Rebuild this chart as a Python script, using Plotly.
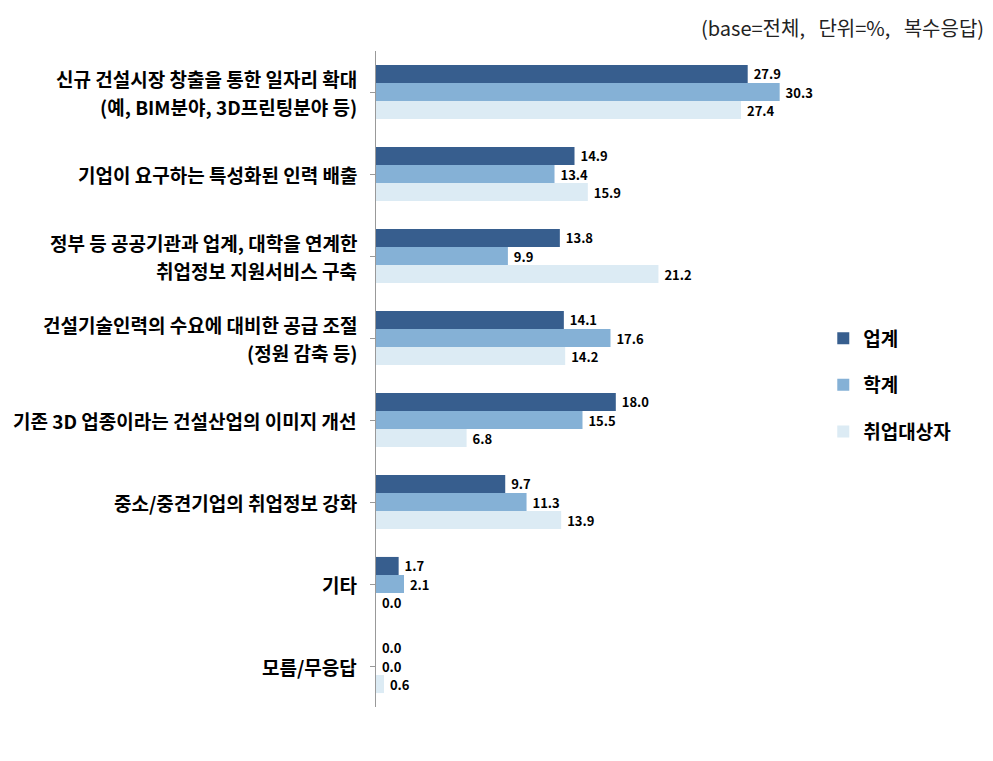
import plotly.graph_objects as go

categories = [
    "신규 건설시장 창출을 통한 일자리 확대\n(예, BIM분야, 3D프린팅분야 등)",
    "기업이 요구하는 특성화된 인력 배출",
    "정부 등 공공기관과 업계, 대학을 연계한\n취업정보 지원서비스 구축",
    "건설기술인력의 수요에 대비한 공급 조절\n(정원 감축 등)",
    "기존 3D 업종이라는 건설산업의 이미지 개선",
    "중소/중견기업의 취업정보 강화",
    "기타",
    "모름/무응답",
]
series_names = ["업계", "학계", "취업대상자"]
industry = [27.9, 14.9, 13.8, 14.1, 18.0, 9.7, 1.7, 0.0]
academia = [30.3, 13.4, 9.9, 17.6, 15.5, 11.3, 2.1, 0.0]
job_seekers = [27.4, 15.9, 21.2, 14.2, 6.8, 13.9, 0.0, 0.6]

colors = ["#375E8E", "#85B1D6", "#DCEBF4"]
FONT = "Noto Sans CJK KR"

fig = go.Figure()
for i, (name, vals) in enumerate(zip(series_names, [industry, academia, job_seekers])):
    fig.add_trace(go.Bar(
        y=list(range(len(categories))), x=vals, name=name, orientation="h",
        marker=dict(color=colors[i], line=dict(width=0)),
        text=[f"\u00a0{v:.1f}" for v in vals], textposition="outside",
        textfont=dict(family=FONT, size=13, color="black", weight="bold"),
        cliponaxis=False, constraintext="none",
        legendgroup=name, legendrank=i,
    ))

# category labels as annotations (two-line labels need wider spacing)
for idx, cat in enumerate(categories):
    lines = cat.split("\n")
    n = len(lines)
    for j, line in enumerate(lines):
        fig.add_annotation(
            x=0, y=idx, xref="x", yref="y", text=line, showarrow=False,
            xanchor="right", yanchor="middle", xshift=-17,
            yshift=(n - 1) * 14 - j * 28,
            font=dict(family=FONT, size=19, color="black", weight="bold"),
        )

fig.add_annotation(
    x=1, y=1, xref="paper", yref="paper", xanchor="right", yanchor="middle",
    xshift=197, yshift=24,
    text="(base=전체,&nbsp;&nbsp;&nbsp;단위=%,&nbsp;&nbsp;&nbsp;복수응답)", showarrow=False,
    font=dict(family=FONT, size=20, color="#222222"),
)

fig.update_layout(
    width=993, height=761,
    margin=dict(l=376, r=204, t=51, b=54, autoexpand=False),
    plot_bgcolor="white", paper_bgcolor="white",
    barmode="group", bargap=0.34, bargroupgap=0,
    showlegend=True,
    legend=dict(x=1.083, y=0.591, xanchor="left", yanchor="top",
                font=dict(family=FONT, size=19, color="black", weight="bold"),
                tracegroupgap=19, traceorder="grouped",
                itemwidth=30),
)
fig.update_xaxes(range=[0, 31], visible=False, automargin=False)
fig.update_yaxes(
    range=[len(categories) - 0.5, -0.5], tickmode="array",
    tickvals=list(range(len(categories))), showticklabels=False,
    tickson="boundaries", ticks="outside", ticklen=5, tickcolor="#999999",
    showline=True, linecolor="#999999", linewidth=1, showgrid=False,
    zeroline=False, automargin=False,
)

fig.write_html("out.html", config={"displayModeBar": False},
               post_script="document.body.style.margin='0';")
